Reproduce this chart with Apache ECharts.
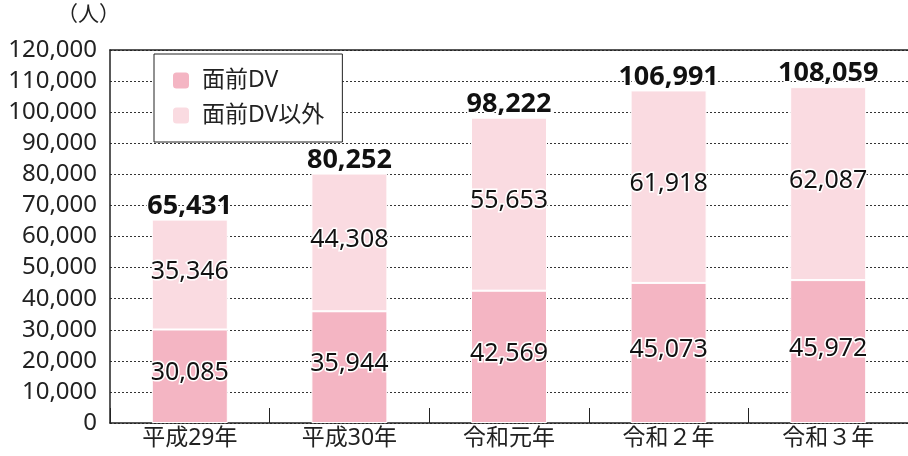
<!DOCTYPE html>
<html>
<head>
<meta charset="utf-8">
<script src="https://cdn.jsdelivr.net/npm/echarts@6/dist/echarts.min.js"></script>
<style>
  html, body { margin: 0; padding: 0; background: #fff; }
  #chart { width: 908px; height: 456px; }
</style>
</head>
<body>
<div id="chart"></div>
<script>
const categories = ["平成29年", "平成30年", "令和元年", "令和２年", "令和３年"];
const faceDV = [30085, 35944, 42569, 45073, 45972];
const otherDV = [35346, 44308, 55653, 61918, 62087];
const totals = [65431, 80252, 98222, 106991, 108059];
const totalBase = [0, 0, 0, 0, 0];

const FONT = '"Noto Sans", "Noto Sans CJK JP", sans-serif';
const fmt = (v) => v.toLocaleString("en-US");

const innerLabel = {
    show: true,
    position: "inside",
    offset: [0, -3],
    fontFamily: FONT,
    fontSize: 25,
    color: "#111",
    textBorderColor: "#fff",
    textBorderWidth: 3,
    formatter: (p) => fmt(p.value)
};

const chart = echarts.init(document.getElementById("chart"));

chart.setOption({
    animation: false,
    textStyle: { fontFamily: FONT },
    grid: { left: 110, right: 0, top: 50, bottom: 33 },
    graphic: [
        {
            type: "text",
            left: 57,
            top: 5,
            style: { text: "（人）", font: '21px ' + FONT, fill: "#222" }
        }
    ],
    legend: {
        left: 154,
        top: 54,
        orient: "vertical",
        data: ["面前DV", "面前DV以外"],
        backgroundColor: "#fff",
        borderColor: "#222",
        borderWidth: 1,
        borderRadius: 0,
        padding: [15, 18, 15, 17],
        itemGap: 12,
        itemWidth: 18,
        itemHeight: 18,
        textStyle: { fontSize: 23, color: "#222", fontFamily: FONT, padding: [0, 0, 0, 7] }
    },
    xAxis: [
        {
            type: "category",
            data: categories,
            axisLine: { lineStyle: { color: "#222", width: 1.5 } },
            axisTick: { show: true, inside: true, length: 15, lineStyle: { color: "#222" } },
            axisLabel: { fontSize: 23, color: "#222", margin: 4, fontFamily: FONT }
        },
        {
            type: "category",
            data: categories,
            position: "top",
            axisLine: { show: true, lineStyle: { color: "#222", width: 1.5 } },
            axisTick: { show: false },
            axisLabel: { show: false }
        }
    ],
    yAxis: {
        type: "value",
        min: 0,
        max: 120000,
        interval: 10000,
        axisLine: { show: true, lineStyle: { color: "#222", width: 1.5 } },
        axisTick: { show: false },
        axisLabel: { fontSize: 24, color: "#222", margin: 13, fontFamily: FONT, formatter: (v) => fmt(v) },
        splitLine: { lineStyle: { color: "#333", type: [2, 2], width: 1 } }
    },
    series: [
        {
            name: "面前DV",
            type: "bar",
            stack: "total",
            barWidth: 76,
            data: faceDV,
            itemStyle: { color: "#F4B5C3", borderColor: "#fff", borderWidth: 1 },
            label: innerLabel
        },
        {
            name: "面前DV以外",
            type: "bar",
            stack: "total",
            data: otherDV,
            itemStyle: { color: "#FADBE1", borderColor: "#fff", borderWidth: 1 },
            label: innerLabel
        },
        {
            name: "合計",
            type: "bar",
            stack: "total",
            data: totalBase,
            itemStyle: { color: "transparent" },
            label: {
                show: true,
                position: "top",
                distance: 0,
                fontFamily: FONT,
                fontSize: 27,
                fontWeight: "bold",
                color: "#111",
                textBorderColor: "#fff",
                textBorderWidth: 3,
                formatter: (p) => fmt(totals[p.dataIndex])
            }
        }
    ]
});
</script>
</body>
</html>
